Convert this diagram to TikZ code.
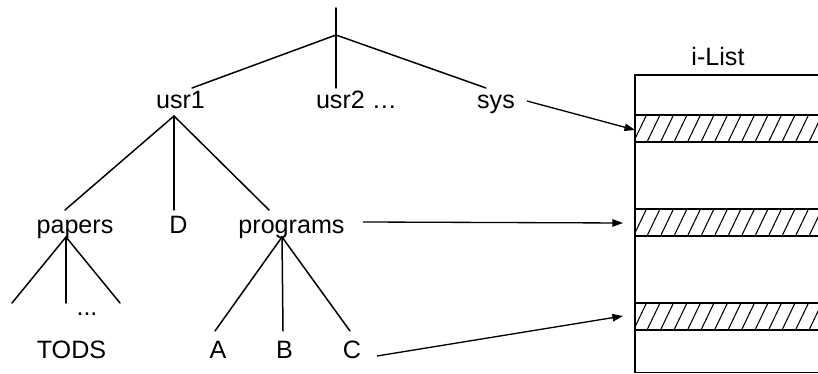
\documentclass[tikz,border=0pt]{standalone}
\usepackage{fontspec}
\setmainfont{Liberation Sans}
\usetikzlibrary{arrows.meta}
\begin{document}
\begin{tikzpicture}[x=0.02cm,y=-0.02cm,
  lbl/.style={inner sep=0pt,anchor=base,font=\fontsize{14.3}{16}\selectfont},
  edge/.style={line width=0.85pt,line cap=round},
  ptr/.style={line width=0.75pt,-{Triangle[length=6pt,width=4.2pt]}},
  frame/.style={line width=0.8pt},
  hatch/.style={line width=0.6pt}]
\useasboundingbox (0,0) rectangle (818,374);

% labels
\node[lbl] (usr1) at (180.5,109) {usr1};
\node[lbl] (usr2) at (356.5,109) {usr2 \dots};
\node[lbl] (sys) at (496,109) {sys};
\node[lbl] (papers) at (75,234) {papers};
\node[lbl] (D) at (178.5,234) {D};
\node[lbl] (programs) at (291.5,234) {programs};
\node[lbl] (pdots) at (87,316) {...};
\node[lbl] (TODS) at (71.5,359) {TODS};
\node[lbl] (A) at (218,359) {A};
\node[lbl] (B) at (284.5,359) {B};
\node[lbl] (C) at (352,359) {C};
\node[lbl] (ilist) at (718,66) {i-List};

% tree joints and branch ends
\coordinate (top) at (336,8);
\coordinate (root) at (336,35);
\coordinate (r1) at (192,88);
\coordinate (r2) at (336,88);
\coordinate (r3) at (486,88);
\coordinate (u) at (174,116);
\coordinate (u1) at (65,210);
\coordinate (u2) at (174,210);
\coordinate (u3) at (269,210);
\coordinate (p) at (66,237);
\coordinate (p1) at (12,303);
\coordinate (p2) at (66,303);
\coordinate (p3) at (120,303);
\coordinate (g) at (282,237);
\coordinate (g1) at (215,331);
\coordinate (g2) at (283,331);
\coordinate (g3) at (350,331);

\draw[edge] (top) -- (root);
\draw[edge] (root) -- (r1);
\draw[edge] (root) -- (r2);
\draw[edge] (root) -- (r3);
\draw[edge] (u) -- (u1);
\draw[edge] (u) -- (u2);
\draw[edge] (u) -- (u3);
\draw[edge] (p) -- (p1);
\draw[edge] (p) -- (p2);
\draw[edge] (p) -- (p3);
\draw[edge] (g) -- (g1);
\draw[edge] (g) -- (g2);
\draw[edge] (g) -- (g3);

% i-List table
\draw[frame] (830,75) -- (635,75) -- (635,372.5) -- (830,372.5);
\foreach \ya/\yb in {115/142, 209/236, 303/330}{
  \begin{scope}
    \clip (635,\ya) rectangle (818,\yb);
    \foreach \x in {620,633.5,...,835}
      \draw[hatch] (\x,\yb) -- ({\x+13},\ya);
  \end{scope}
  \draw[frame] (830,\ya) -- (635,\ya) -- (635,\yb) -- (830,\yb);
}

% pointers into the list
\coordinate (sysStart) at (527,101);
\coordinate (progStart) at (363,222);
\coordinate (cStart) at (377,356);
\coordinate (sysEnd) at (635,130);
\coordinate (progEnd) at (623,223);
\coordinate (cEnd) at (623,316);
\draw[ptr] (sysStart) -- (sysEnd);
\draw[ptr] (progStart) -- (progEnd);
\draw[ptr] (cStart) -- (cEnd);
\end{tikzpicture}
\end{document}
